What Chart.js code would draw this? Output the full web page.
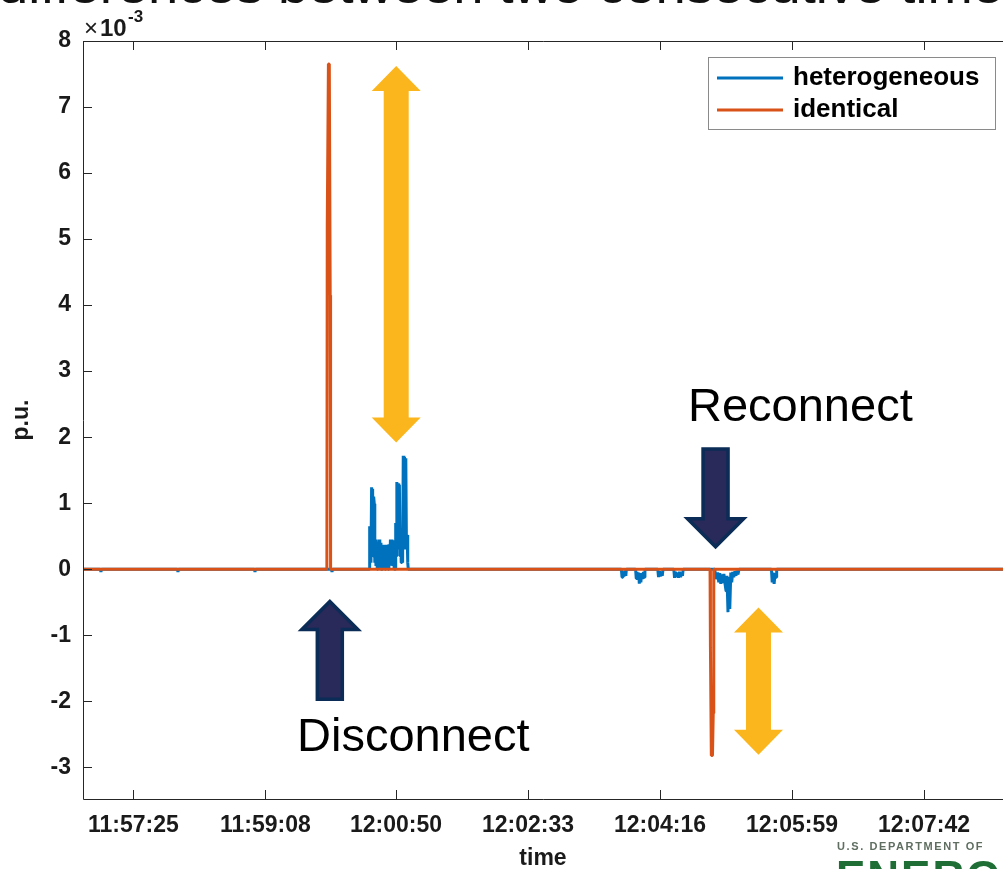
<!DOCTYPE html>
<html>
<head>
<meta charset="utf-8">
<title>heterogeneous vs identical</title>
<script src="https://cdn.jsdelivr.net/npm/chart.js"></script>
<style>
  html, body { margin: 0; padding: 0; background: #fff; overflow: hidden; }
</style>
</head>
<body>
<canvas id="chart" width="1003" height="869"></canvas>
<script>
// ---- data (values in units of 1e-3 p.u.) ----
const tickLabels = ['11:57:25', '11:59:08', '12:00:50', '12:02:33', '12:04:16', '12:05:59', '12:07:42'];
const yTicks = [8, 7, 6, 5, 4, 3, 2, 1, 0, -1, -2, -3];
const xStart = '11:56:45.7';
const xEnd = '12:08:43.6';
const yMin = -3.48;
const yMax = 8;
const seriesNames = ['heterogeneous', 'identical'];

const heteroTimes = [
  '11:56:45.7', '11:56:59.3', '11:56:59.7', '11:57:00.1', '11:57:59.4', '11:57:59.8', '11:58:00.2',
  '11:58:59.5', '11:58:59.9', '11:59:00.3', '11:59:59.6', '12:00:00.0', '12:00:00.4',
  '12:00:28.9', '12:00:29.2', '12:00:29.6', '12:00:30.0', '12:00:30.4', '12:00:30.9', '12:00:31.3',
  '12:00:31.7', '12:00:32.1', '12:00:32.5', '12:00:33.0', '12:00:33.4', '12:00:33.8', '12:00:34.3',
  '12:00:34.8', '12:00:35.3', '12:00:35.8', '12:00:36.3', '12:00:36.8', '12:00:37.3', '12:00:37.8',
  '12:00:38.2', '12:00:39.2', '12:00:39.6', '12:00:40.2', '12:00:40.8', '12:00:41.4', '12:00:42.0',
  '12:00:42.6', '12:00:43.2', '12:00:43.8', '12:00:44.4', '12:00:45.0', '12:00:45.6', '12:00:46.2',
  '12:00:46.8', '12:00:47.4', '12:00:48.0', '12:00:48.5', '12:00:49.3', '12:00:49.7', '12:00:50.1',
  '12:00:50.6', '12:00:51.1', '12:00:51.6', '12:00:52.1', '12:00:52.6', '12:00:53.1', '12:00:53.5',
  '12:00:54.0', '12:00:54.6', '12:00:55.1', '12:00:55.6', '12:00:56.1', '12:00:56.6', '12:00:57.1',
  '12:00:57.6', '12:00:58.1', '12:00:58.6', '12:00:59.1', '12:00:59.5',
  '12:03:45.8', '12:03:46.3', '12:03:47.0', '12:03:47.8', '12:03:48.6', '12:03:49.3', '12:03:49.7',
  '12:03:56.9', '12:03:57.4', '12:03:58.0', '12:03:58.6', '12:03:59.3', '12:03:59.8', '12:04:00.4',
  '12:04:01.0', '12:04:01.6', '12:04:02.3', '12:04:03.0', '12:04:03.6', '12:04:04.2',
  '12:04:14.2', '12:04:14.8', '12:04:15.5', '12:04:16.2', '12:04:17.0', '12:04:17.7', '12:04:18.3',
  '12:04:26.7', '12:04:27.3', '12:04:28.0', '12:04:28.8', '12:04:29.6', '12:04:30.4', '12:04:31.2',
  '12:04:32.0', '12:04:32.8', '12:04:33.5', '12:04:34.0',
  '12:04:58.7', '12:04:59.3', '12:05:00.2', '12:05:01.0', '12:05:01.8', '12:05:02.6', '12:05:03.4',
  '12:05:04.2', '12:05:05.0', '12:05:05.8', '12:05:06.7', '12:05:07.5', '12:05:08.2', '12:05:09.0',
  '12:05:09.6', '12:05:10.4', '12:05:11.2', '12:05:11.9', '12:05:12.7', '12:05:13.5', '12:05:14.4',
  '12:05:15.2', '12:05:16.0', '12:05:16.8', '12:05:17.6',
  '12:05:42.9', '12:05:43.5', '12:05:44.2', '12:05:45.0', '12:05:45.8', '12:05:46.5', '12:05:47.0',
  '12:08:43.6'
];
const heteroValues = [
  0, 0, -0.04, 0, 0, -0.04, 0,
  0, -0.04, 0, 0, -0.04, 0,
  0, 0.65, 0.05, 0.62, 0.1, 1.24, 0.3,
  1.22, 0.2, 1.1, 0.99, 0.1, 0.45, 0.05,
  0.42, 0, 0.30, 0.05, 0.45, 0.1, 0.40,
  0, 0, 0.37, 0.05, 0.36, 0, 0.37,
  0.05, 0.36, 0, 0.38, 0.05, 0.45, 0.1,
  0.45, 0.05, 0.44, 0, 0, 0.70, 0.2,
  1.32, 0.4, 1.30, 0.3, 1.28, 0.2, 0.55,
  0.1, 0.40, 0.1, 1.72, 0.3, 1.70, 0.4,
  1.68, 0.3, 0.52, 0.1, 0,
  0, -0.12, -0.03, -0.11, -0.02, -0.10, 0,
  0, -0.14, -0.04, -0.16, -0.05, -0.22, -0.08,
  -0.20, -0.06, -0.15, -0.04, -0.12, 0,
  0, -0.12, -0.03, -0.11, -0.04, -0.10, 0,
  0, -0.13, -0.04, -0.12, -0.05, -0.13, -0.04,
  -0.12, -0.05, -0.10, 0,
  0, -0.10, -0.15, -0.05, -0.20, -0.06, -0.22,
  -0.08, -0.21, -0.07, -0.22, -0.33, -0.10, -0.65,
  -0.12, -0.60, -0.05, -0.20, -0.04, -0.12, -0.03,
  -0.10, -0.02, -0.08, 0,
  0, -0.20, -0.05, -0.22, -0.06, -0.12, 0,
  0
];

const identicalTimes = [
  '11:56:45.7', '11:59:56.0', '11:59:56.3', '11:59:57.2', '11:59:57.9', '11:59:58.6', '11:59:58.9',
  '12:04:55.0', '12:04:55.3', '12:04:56.0', '12:04:56.9', '12:04:57.5', '12:04:57.9', '12:08:43.6'
];
const identicalValues = [0, 0, 5.22, 7.65, 7.65, 4.15, 0, 0, -1.18, -2.82, -2.82, -2.18, 0, 0];

// annotations placed in data units (time, value)
const yellowArrows = [
  { t: '12:00:50.1', top: 7.62, bottom: 1.92 },
  { t: '12:05:32.8', top: -0.58, bottom: -2.81 }
];
const navyArrows = [
  { t: '12:04:59.3', tail: 1.82, tip: 0.34 },
  { t: '11:59:58.3', tail: -1.97, tip: -0.49 }
];
const notes = [
  { text: 'Reconnect', t: '12:04:37.8', v: 2.25 },
  { text: 'Disconnect', t: '11:59:32.7', v: -2.76 }
];

function toSec(t) {
  const p = t.split(':');
  return Number(p[0]) * 3600 + Number(p[1]) * 60 + parseFloat(p[2]);
}

const FONT = 'Arial, "Liberation Sans", Helvetica, sans-serif';
const AXIS = '#262626';

function singleArrow(ctx, x, yTail, yTip, shaftW, headW, headL) {
  const d = yTip < yTail ? 1 : -1;
  ctx.beginPath();
  ctx.moveTo(x - shaftW / 2, yTail);
  ctx.lineTo(x - shaftW / 2, yTip + d * headL);
  ctx.lineTo(x - headW / 2, yTip + d * headL);
  ctx.lineTo(x, yTip);
  ctx.lineTo(x + headW / 2, yTip + d * headL);
  ctx.lineTo(x + shaftW / 2, yTip + d * headL);
  ctx.lineTo(x + shaftW / 2, yTail);
  ctx.closePath();
}

function doubleArrow(ctx, x, yTop, yBot, shaftW, headW, headL) {
  ctx.beginPath();
  ctx.moveTo(x, yTop);
  ctx.lineTo(x + headW / 2, yTop + headL);
  ctx.lineTo(x + shaftW / 2, yTop + headL);
  ctx.lineTo(x + shaftW / 2, yBot - headL);
  ctx.lineTo(x + headW / 2, yBot - headL);
  ctx.lineTo(x, yBot);
  ctx.lineTo(x - headW / 2, yBot - headL);
  ctx.lineTo(x - shaftW / 2, yBot - headL);
  ctx.lineTo(x - shaftW / 2, yTop + headL);
  ctx.lineTo(x - headW / 2, yTop + headL);
  ctx.closePath();
}

const framePlugin = {
  id: 'frame',
  afterDraw(chart) {
    const ctx = chart.ctx;
    const a = chart.chartArea;
    const xs = chart.scales.x, ys = chart.scales.y;
    ctx.save();

    // axes box (right side lies beyond the picture)
    ctx.strokeStyle = AXIS;
    ctx.lineWidth = 1;
    ctx.beginPath();
    ctx.moveTo(a.right, a.top + 0.5);
    ctx.lineTo(a.left + 0.5, a.top + 0.5);
    ctx.lineTo(a.left + 0.5, a.bottom + 0.5);
    ctx.lineTo(a.right, a.bottom + 0.5);
    ctx.stroke();

    // inward tick marks
    ctx.beginPath();
    xs.ticks.forEach(tk => {
      const px = Math.round(xs.getPixelForValue(tk.value)) + 0.5;
      ctx.moveTo(px, a.bottom); ctx.lineTo(px, a.bottom - 9);
      ctx.moveTo(px, a.top); ctx.lineTo(px, a.top + 9);
    });
    ys.ticks.forEach(tk => {
      const py = Math.round(ys.getPixelForValue(tk.value)) + 0.5;
      ctx.moveTo(a.left, py); ctx.lineTo(a.left + 9, py);
    });
    ctx.stroke();

    // exponent label
    ctx.fillStyle = '#1a1a1a';
    ctx.textBaseline = 'alphabetic';
    ctx.textAlign = 'left';
    ctx.font = '24px ' + FONT;
    ctx.fillText('\u00d7', 84, 36);
    ctx.font = 'bold 24px ' + FONT;
    ctx.fillText('10', 100, 36);
    ctx.font = 'bold 17px ' + FONT;
    ctx.fillText('-3', 128, 22);

    // legend
    ctx.fillStyle = '#fff';
    ctx.fillRect(708.5, 57.5, 287, 72);
    ctx.strokeStyle = '#8a8a8a';
    ctx.strokeRect(708.5, 57.5, 287, 72);
    chart.data.datasets.forEach((ds, i) => {
      const y = 78 + i * 32;
      ctx.strokeStyle = ds.borderColor;
      ctx.lineWidth = 3;
      ctx.beginPath();
      ctx.moveTo(717, y); ctx.lineTo(783, y);
      ctx.stroke();
      ctx.fillStyle = '#000';
      ctx.font = 'bold 26px ' + FONT;
      ctx.textBaseline = 'middle';
      ctx.fillText(ds.label, 793, y);
    });

    // annotation arrows
    ctx.fillStyle = '#FCB61D';
    yellowArrows.forEach(ar => {
      const x = xs.getPixelForValue(toSec(ar.t));
      doubleArrow(ctx, x, ys.getPixelForValue(ar.top), ys.getPixelForValue(ar.bottom), 25, 49, 25);
      ctx.fill();
    });
    navyArrows.forEach(ar => {
      const x = xs.getPixelForValue(toSec(ar.t));
      singleArrow(ctx, x, ys.getPixelForValue(ar.tail), ys.getPixelForValue(ar.tip), 25, 56, 28);
      ctx.fillStyle = '#29295a';
      ctx.fill();
      ctx.strokeStyle = '#0b2c56';
      ctx.lineWidth = 3.5;
      ctx.lineJoin = 'miter';
      ctx.stroke();
    });

    ctx.fillStyle = '#000';
    ctx.font = '47px ' + FONT;
    ctx.textBaseline = 'alphabetic';
    notes.forEach(n => {
      ctx.fillText(n.text, xs.getPixelForValue(toSec(n.t)), ys.getPixelForValue(n.v));
    });

    // slide title cut off at the top edge
    ctx.font = '47px ' + FONT;
    ctx.fillStyle = '#111';
    const title = 'differences between two consecutive time';
    const w = ctx.measureText(title).width;
    ctx.save();
    ctx.translate(-2, 0);
    ctx.scale(1005 / w, 1);
    ctx.fillText(title, 0, 3);
    ctx.restore();

    // DOE logo fragment bottom right
    ctx.fillStyle = '#5f6e60';
    ctx.font = 'bold 11px ' + FONT;
    ctx.letterSpacing = '1.6px';
    ctx.fillText('U.S. DEPARTMENT OF', 837, 850);
    ctx.letterSpacing = '2px';
    ctx.fillStyle = '#1f6e35';
    ctx.font = 'bold 44px ' + FONT;
    ctx.fillText('ENERGY', 836, 892);
    ctx.restore();
  }
};

const ctx = document.getElementById('chart').getContext('2d');
new Chart(ctx, {
  type: 'line',
  data: {
    datasets: [
      {
        label: seriesNames[0],
        data: heteroTimes.map((t, i) => ({ x: toSec(t), y: heteroValues[i] })),
        borderColor: '#0072BD',
        borderWidth: 3,
        borderJoinStyle: 'bevel',
        pointRadius: 0,
        tension: 0,
        order: 1
      },
      {
        label: seriesNames[1],
        data: identicalTimes.map((t, i) => ({ x: toSec(t), y: identicalValues[i] })),
        borderColor: '#D95319',
        borderWidth: 3,
        borderJoinStyle: 'bevel',
        pointRadius: 0,
        tension: 0,
        order: 0
      }
    ]
  },
  options: {
    responsive: false,
    animation: false,
    devicePixelRatio: 1,
    layout: { padding: { top: 41, left: 0, right: 0, bottom: 0 } },
    plugins: { legend: { display: false }, tooltip: { enabled: false } },
    scales: {
      x: {
        type: 'linear',
        min: toSec(xStart),
        max: toSec(xEnd),
        grid: { display: false, drawTicks: false },
        border: { display: false },
        afterBuildTicks: s => { s.ticks = tickLabels.map(l => ({ value: toSec(l) })); },
        afterFit: s => { s.height = 70; },
        ticks: {
          autoSkip: false,
          maxRotation: 0,
          padding: 13,
          color: '#1a1a1a',
          font: { family: FONT, size: 23, weight: 'bold' },
          callback: (v, i) => tickLabels[i]
        },
        title: {
          display: true,
          text: 'time',
          color: '#1a1a1a',
          padding: { top: 0, bottom: -3 },
          font: { family: FONT, size: 23, weight: 'bold' }
        }
      },
      y: {
        min: yMin,
        max: yMax,
        grid: { display: false, drawTicks: false },
        border: { display: false },
        afterBuildTicks: s => { s.ticks = yTicks.map(v => ({ value: v })); },
        afterFit: s => { s.width = 83; },
        ticks: {
          padding: 12,
          color: '#1a1a1a',
          font: { family: FONT, size: 23, weight: 'bold' }
        },
        title: {
          display: true,
          text: 'p.u.',
          color: '#1a1a1a',
          padding: { top: 8, bottom: 0 },
          font: { family: FONT, size: 23, weight: 'bold' }
        }
      }
    }
  },
  plugins: [framePlugin]
});
</script>
</body>
</html>
